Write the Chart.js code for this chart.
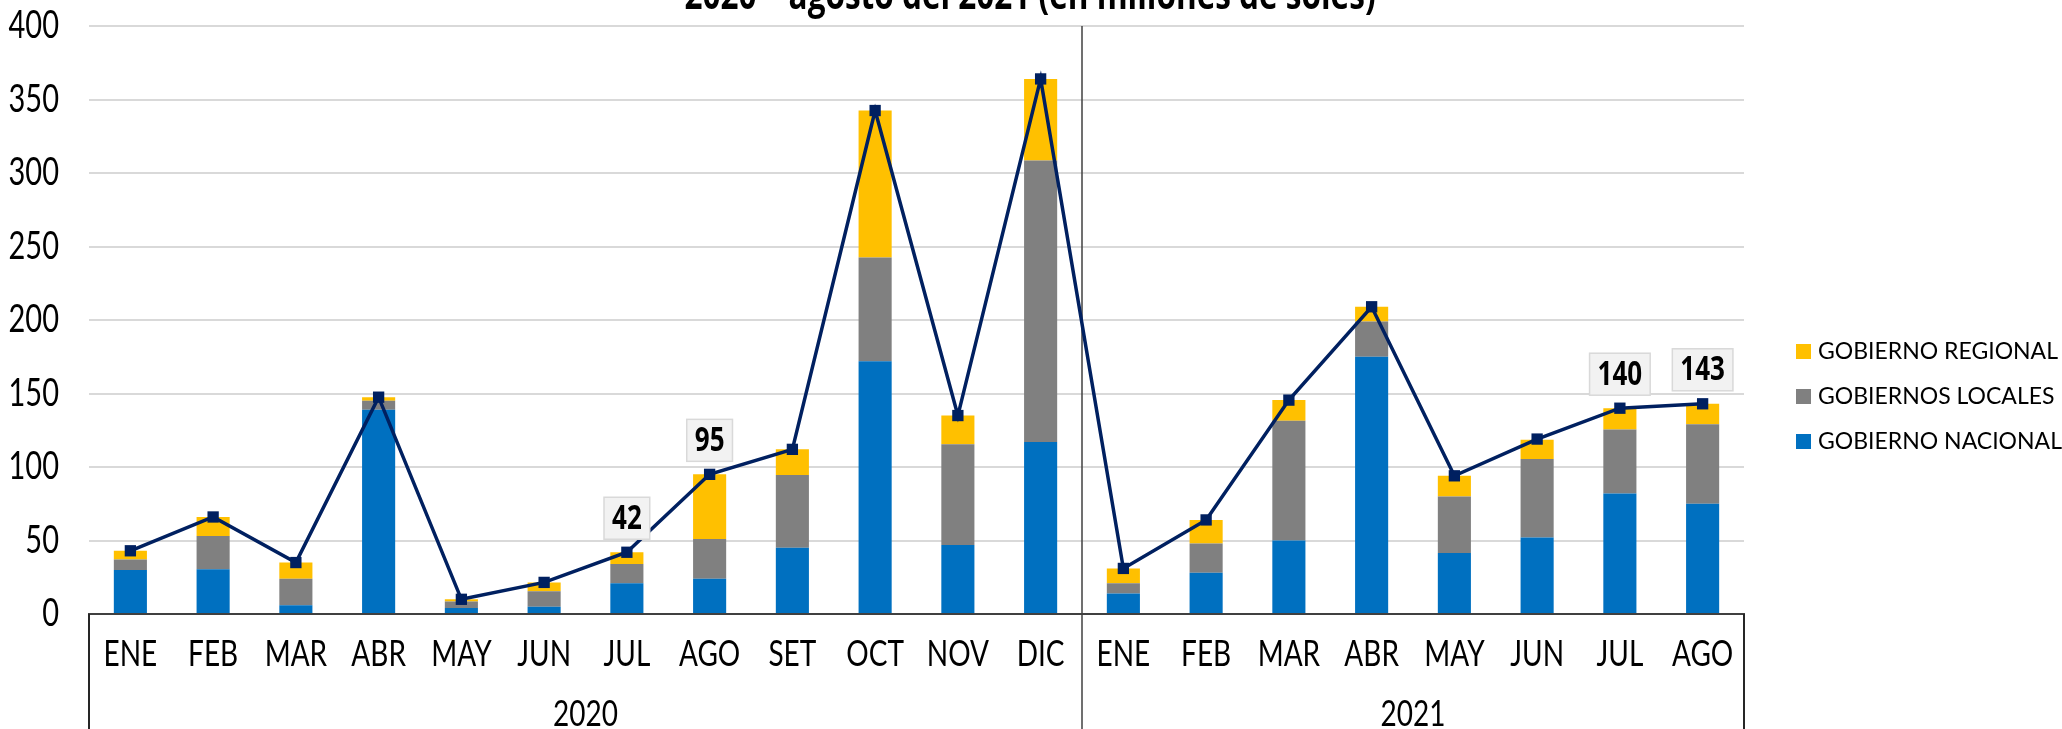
<!DOCTYPE html>
<html>
<head>
<meta charset="utf-8">
<script src="https://cdn.jsdelivr.net/npm/chart.js@4.4.1/dist/chart.umd.min.js"></script>
<style>
  html, body { margin: 0; padding: 0; background: #fff; }
  canvas { display: block; }
</style>
</head>
<body>
<canvas id="chart" width="2062" height="729"></canvas>
<script>
// Transferencias por nivel de gobierno, ene 2020 - ago 2021 (millones de soles)
const months = ['ENE', 'FEB', 'MAR', 'ABR', 'MAY', 'JUN', 'JUL', 'AGO', 'SET', 'OCT', 'NOV', 'DIC',
                'ENE', 'FEB', 'MAR', 'ABR', 'MAY', 'JUN', 'JUL', 'AGO'];
const years = ['2020', '2021'];
const yearSpans = [12, 8];

const nacional = [30, 30.5, 6, 139, 4, 5, 21, 24, 45, 172, 47, 117, 14, 28, 50, 175, 41.5, 52, 82, 75];
const locales  = [7, 22.5, 18, 6, 4.5, 10.5, 13, 27, 49.5, 70.5, 68.5, 191.5, 7, 20, 81.5, 24, 38.5, 53.5, 43.5, 54];
const regional = [6, 13, 11, 2.5, 1.5, 6, 8, 44, 17.5, 100, 19.5, 55.5, 10, 16, 14, 10, 14, 13, 14.5, 14];
const total    = [43, 66, 35, 147.5, 10, 21.5, 42, 95, 112, 342.5, 135, 364, 31, 64, 145.5, 209, 94, 119, 140, 143];

// only these points carry a value box in the original
const labelledPoints = [6, 7, 18, 19];
const yTicks = [0, 50, 100, 150, 200, 250, 300, 350, 400];

const titleText = '2020 \u2013 agosto del 2021 (en millones de soles)';

const FONT = 'Lato, "Open Sans", sans-serif';
const BOLD_FONT = '"Open Sans", Lato, sans-serif';
const STRETCH = 1.3; // axis text in the original is drawn taller than wide

function tallText(ctx, text, x, y, size, weight, align, family) {
    ctx.save();
    ctx.font = weight + ' ' + size + 'px ' + (family || FONT);
    ctx.textAlign = align;
    ctx.textBaseline = 'middle';
    ctx.fillStyle = '#000';
    ctx.translate(x, y);
    ctx.scale(1, STRETCH);
    ctx.fillText(text, 0, 0);
    ctx.restore();
}

const decor = {
    id: 'decor',
    beforeDatasetsDraw(chart) {
        const ctx = chart.ctx;
        const x = chart.scales.x;
        const area = chart.chartArea;
        // year divider through the plot and the axis box
        let idx = 0;
        ctx.save();
        ctx.strokeStyle = '#404040';
        ctx.lineWidth = 1.5;
        for (let i = 0; i < yearSpans.length - 1; i++) {
            idx += yearSpans[i];
            const px = (x.getPixelForValue(idx - 1) + x.getPixelForValue(idx)) / 2;
            ctx.beginPath();
            ctx.moveTo(px, area.top);
            ctx.lineTo(px, chart.height);
            ctx.stroke();
        }
        ctx.restore();
    },
    afterDraw(chart) {
        const ctx = chart.ctx;
        const x = chart.scales.x;
        const y = chart.scales.y;
        const area = chart.chartArea;

        // y tick labels
        yTicks.forEach(function(v) {
            tallText(ctx, String(v), 59, y.getPixelForValue(v), 29, 'normal', 'right');
        });

        // month labels
        months.forEach(function(m, i) {
            tallText(ctx, m, x.getPixelForValue(i), 654, 28, 'normal', 'center');
        });

        // year labels + outer box lines
        ctx.save();
        ctx.strokeStyle = '#262626';
        ctx.lineWidth = 2;
        [area.left, area.right].forEach(function(px) {
            ctx.beginPath();
            ctx.moveTo(px, area.bottom);
            ctx.lineTo(px, chart.height);
            ctx.stroke();
        });
        ctx.restore();
        let start = 0;
        years.forEach(function(yr, i) {
            const end = start + yearSpans[i] - 1;
            const left = start === 0 ? area.left : (x.getPixelForValue(start - 1) + x.getPixelForValue(start)) / 2;
            const right = end === months.length - 1 ? area.right : (x.getPixelForValue(end) + x.getPixelForValue(end + 1)) / 2;
            tallText(ctx, yr, (left + right) / 2, 714, 28, 'normal', 'center');
            start += yearSpans[i];
        });

        // value boxes above a few line points
        const meta = chart.getDatasetMeta(3);
        labelledPoints.forEach(function(i) {
            const pt = meta.data[i];
            const text = String(Math.round(total[i]));
            ctx.save();
            ctx.font = 'bold 26px ' + BOLD_FONT;
            const w = ctx.measureText(text).width + 16;
            const h = 42;
            const bx = pt.x - w / 2;
            const by = pt.y - 13 - h;
            ctx.fillStyle = '#f2f2f2';
            ctx.fillRect(bx, by, w, h);
            ctx.strokeStyle = '#d9d9d9';
            ctx.lineWidth = 1.5;
            ctx.strokeRect(bx, by, w, h);
            ctx.restore();
            tallText(ctx, text, pt.x, by + h / 2 + 1, 26, 'bold', 'center', BOLD_FONT);
        });

        // legend (top to bottom: regional, locales, nacional)
        const items = [2, 1, 0];
        items.forEach(function(di, k) {
            const ds = chart.data.datasets[di];
            const cy = 352 + k * 45;
            ctx.save();
            ctx.fillStyle = ds.backgroundColor;
            ctx.fillRect(1796, cy - 8, 15, 15);
            ctx.fillStyle = '#000';
            ctx.font = '23px ' + FONT;
            ctx.textBaseline = 'middle';
            ctx.textAlign = 'left';
            ctx.fillText(ds.label, 1818, cy);
            ctx.restore();
        });

        // title, cut by the top edge as in the original
        tallText(ctx, titleText, 1030, -3, 31.5, 'bold', 'center', BOLD_FONT);
    }
};

new Chart(document.getElementById('chart'), {
    type: 'bar',
    data: {
        labels: months,
        datasets: [
            { label: 'GOBIERNO NACIONAL', data: nacional, backgroundColor: '#0070C0', stack: 'niveles', order: 2 },
            { label: 'GOBIERNOS LOCALES', data: locales, backgroundColor: '#808080', stack: 'niveles', order: 2 },
            { label: 'GOBIERNO REGIONAL', data: regional, backgroundColor: '#FFC000', stack: 'niveles', order: 2 },
            {
                type: 'line',
                label: 'TOTAL',
                data: total,
                stack: 'total',
                order: 1,
                borderColor: '#002060',
                borderWidth: 3.5,
                backgroundColor: '#002060',
                pointStyle: 'rect',
                pointRadius: 8,
                pointBackgroundColor: '#002060',
                pointBorderColor: '#002060',
                pointBorderWidth: 0,
                tension: 0
            }
        ]
    },
    options: {
        responsive: false,
        animation: false,
        layout: { padding: { top: 26, right: 318, left: 0, bottom: 0 } },
        datasets: {
            bar: { categoryPercentage: 0.4, barPercentage: 1, borderWidth: 0 }
        },
        plugins: {
            legend: { display: false },
            tooltip: { enabled: false },
            title: { display: false }
        },
        scales: {
            x: {
                stacked: true,
                grid: { display: false },
                border: { display: true, color: '#404040', width: 2 },
                ticks: { display: false },
                afterFit: function(scale) { scale.height = 115; }
            },
            y: {
                stacked: true,
                min: 0,
                max: 400,
                ticks: { display: false, stepSize: 50 },
                grid: { color: '#d9d9d9', lineWidth: 2, drawTicks: false },
                border: { display: false },
                afterFit: function(scale) { scale.width = 89; }
            }
        }
    },
    plugins: [decor]
});
</script>
</body>
</html>
